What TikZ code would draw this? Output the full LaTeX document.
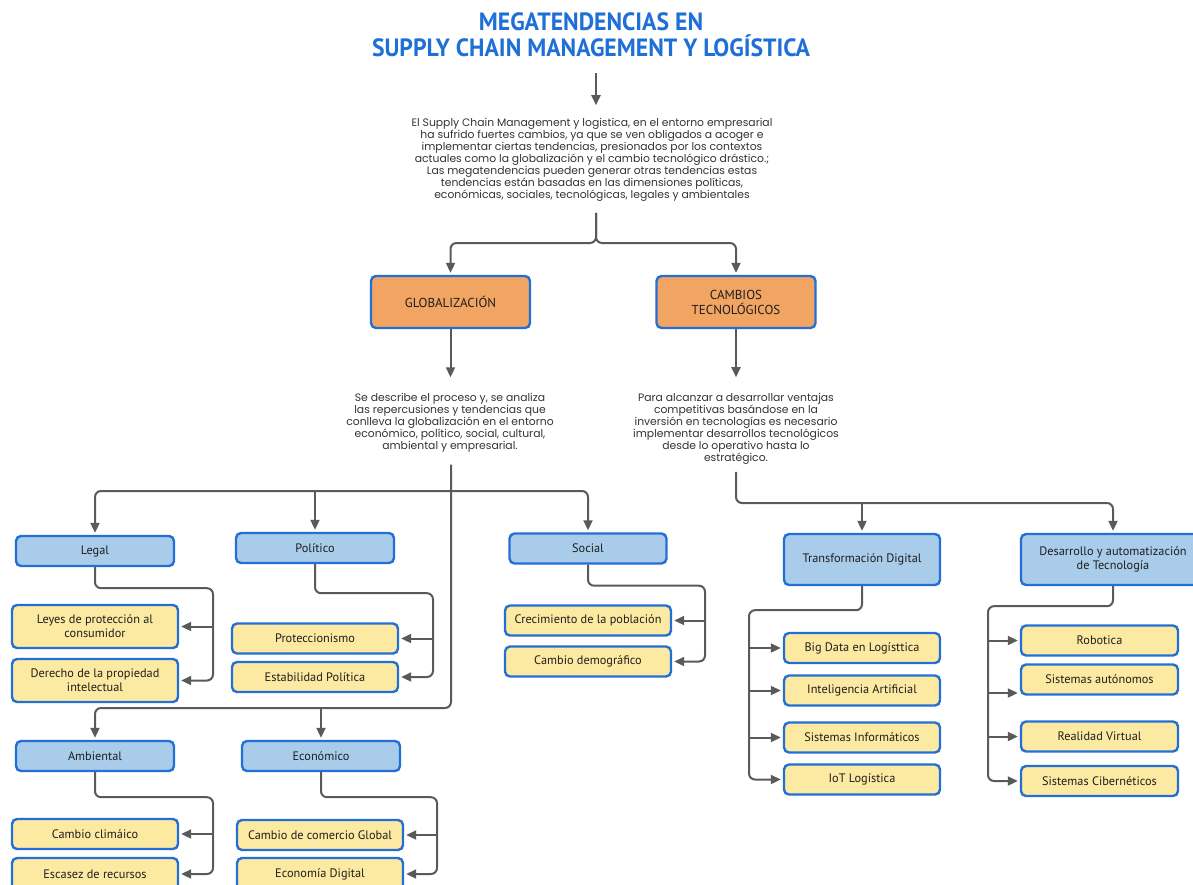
\documentclass[tikz,border=0pt]{standalone}
\usepackage{fontspec}
\usepackage{graphicx}
\setmainfont{PT Sans}
\newfontfamily\parafont{Poppins}
\usetikzlibrary{arrows.meta,calc}

\definecolor{titleblue}{HTML}{1E6FD6}
\definecolor{boxline}{HTML}{2270D6}
\definecolor{bluefill}{HTML}{A9CCEA}
\definecolor{orangefill}{HTML}{F2A462}
\definecolor{yellowfill}{HTML}{FDEAA2}
\definecolor{linegray}{HTML}{5A5A5A}
\definecolor{textdark}{HTML}{1E1E1E}
\definecolor{textgray}{HTML}{333333}

\tikzset{
  box/.style={draw=boxline, line width=2.4pt, rounded corners=5pt,
    font=\fontsize{12.3}{14}\selectfont, text=textdark, align=center, inner sep=2pt},
  topicbox/.style={box, fill=orangefill, minimum width=159pt, minimum height=52pt,
    font=\fontsize{13}{15}\selectfont},
  catbox/.style={box, fill=bluefill, minimum width=158pt, minimum height=30pt},
  itembox/.style={box, fill=yellowfill, minimum width=166pt, minimum height=30pt},
  conn/.style={draw=linegray, line width=2pt, rounded corners=6pt,
    -{Triangle[length=10pt,width=9pt]}, shorten >=2pt},
  para/.style={font=\parafont\fontsize{10.8}{12}\selectfont, text=textgray,
    align=center, inner sep=0pt},
}

\begin{document}
\begin{tikzpicture}[x=1pt,y=-1pt]
\useasboundingbox (0,0) rectangle (1193,884);
\clip (0,0) rectangle (1193,884);

% title and introduction
\node[font=\bfseries\fontsize{25}{26}\selectfont, text=titleblue, align=center, inner sep=0pt]
  (title) at (591,35) {\scalebox{0.95}[1]{MEGATENDENCIAS EN}\\\scalebox{0.95}[1]{SUPPLY CHAIN MANAGEMENT Y LOGÍSTICA}};

\node[para] (intro) at (592,160) {El Supply Chain Management y logistica, en el entorno empresarial\\
ha sufrido fuertes cambios, ya que se ven obligados a acoger e\\
implementar ciertas tendencias, presionados por los contextos\\
actuales como la globalización y el cambio tecnológico drástico.;\\
Las megatendencias pueden generar otras tendencias estas\\
tendencias están basadas en las dimensiones políticas,\\
económicas, sociales, tecnológicas, legales y ambientales};

% the two megatrends
\node[topicbox] (glob) at (450.5,302) {GLOBALIZACIÓN};
\node[topicbox] (camb) at (736,302) {CAMBIOS\\TECNOLÓGICOS};

\node[para] (gtext) at (450,423) {Se describe el proceso y, se analiza\\
las repercusiones y tendencias que\\
conlleva la globalización en el entorno\\
económico, político, social, cultural,\\
ambiental y empresarial.};

\node[para] (ctext) at (736,429) {Para alcanzar a desarrollar ventajas\\
competitivas basándose en la\\
inversión en tecnologías es necesario\\
implementar desarrollos tecnológicos\\
desde lo operativo hasta lo\\
estratégico.};

% dimensions of globalisation
\node[catbox] (legal) at (95,551) {Legal};
\node[catbox] (polit) at (315,548) {Político};
\node[catbox, minimum width=157pt] (social) at (588,548.5) {Social};
\node[catbox] (amb) at (95,756) {Ambiental};
\node[catbox] (econ) at (321,756) {Económico};

\node[itembox, minimum height=43pt] (leyes) at (95,626.5) {Leyes de protección al\\consumidor};
\node[itembox, minimum height=43pt] (derecho) at (95,680.5) {Derecho de la propiedad\\intelectual};
\node[itembox] (protec) at (315,638.5) {Proteccionismo};
\node[itembox] (estab) at (315,677) {Estabilidad Política};
\node[itembox] (crec) at (588,620.5) {Crecimiento de la población};
\node[itembox] (cdemo) at (588,661.5) {Cambio demográfico};
\node[itembox] (cclim) at (95,834) {Cambio climáico};
\node[itembox, minimum height=32pt] (escasez) at (95,874) {Escasez de recursos};
\node[itembox] (comercio) at (320,835) {Cambio de comercio Global};
\node[itembox, minimum height=32pt] (edig) at (320,874) {Economía Digital};

% technological change
\node[catbox, minimum width=156pt, minimum height=51pt] (td) at (862,559.5) {Transformación Digital};
\node[catbox, minimum width=184pt, minimum height=51pt] (desa) at (1113,559.5) {Desarrollo y automatización\\de Tecnología};

\node[itembox, minimum width=156pt] (bigdata) at (862,648) {Big Data en Logísttica};
\node[itembox, minimum width=156pt] (ia) at (862,690.5) {Inteligencia Artificial};
\node[itembox, minimum width=156pt] (sinf) at (862,737.5) {Sistemas Informáticos};
\node[itembox, minimum width=156pt] (iot) at (862,779.5) {IoT Logística};

\node[itembox, minimum width=157pt] (robot) at (1099.5,640.5) {Robotica};
\node[itembox, minimum width=157pt] (auton) at (1099.5,679.5) {Sistemas autónomos};
\node[itembox, minimum width=157pt] (rv) at (1099.5,736.5) {Realidad Virtual};
\node[itembox, minimum width=157pt] (ciber) at (1099.5,781) {Sistemas Cibernéticos};

% junctions
\coordinate (j1) at (596,243);
\coordinate (j2) at (451,491);
\coordinate (j3) at (451,708);
\coordinate (j4) at (736,503);

% main flow
\draw[conn, shorten <=16pt, shorten >=13pt] (title.south -| j1) -- (intro.north -| j1);
\draw[conn, shorten <=11pt] (intro.south -| j1) -- (j1) -| (glob.north);
\draw[conn, shorten <=11pt] (intro.south -| j1) -- (j1) -| (camb.north);
\draw[conn, shorten >=16pt] (glob.south) -- (glob.south |- gtext.north);
\draw[conn, shorten >=16pt] (camb.south) -- (camb.south |- ctext.north);

% globalisation branches
\draw[conn, shorten <=12pt] (gtext.south -| j3) -- (j3) -| (amb.north);
\draw[conn] (econ.north |- j3) -- (econ.north);
\draw[conn] (j2) -| (legal.north);
\draw[conn] (j2) -| (social.north);
\draw[conn] (polit.north |- j2) -- (polit.north);

% technology branches
\draw[conn, shorten <=7pt] (ctext.south -| j4) -- (j4) -| (desa.north);
\draw[conn] (td.north |- j4) -- (td.north);

% leaf connectors
\draw[conn] (legal.south) -- ++(0,21) -| (213,0 |- derecho.east) -- (derecho.east);
\draw[conn] (213,0 |- leyes.east) -- (leyes.east);

\draw[conn] (polit.south) -- ++(0,29) -| (433,0 |- estab.east) -- (estab.east);
\draw[conn] (433,0 |- protec.east) -- (protec.east);

\draw[conn] (social.south) -- ++(0,21) -| (705,0 |- cdemo.east) -- (cdemo.east);
\draw[conn] (705,0 |- crec.east) -- (crec.east);

\draw[conn] (amb.south) -- ++(0,25) -| (213,0 |- escasez.east) -- (escasez.east);
\draw[conn] (213,0 |- cclim.east) -- (cclim.east);

\draw[conn] (econ.south) -- ++(0,25) -| (437,0 |- edig.east) -- (edig.east);
\draw[conn] (437,0 |- comercio.east) -- (comercio.east);

\draw[conn] (td.south) -- ++(0,24) -| (749,0 |- iot.west) -- (iot.west);
\draw[conn] (749,0 |- bigdata.west) -- (bigdata.west);
\draw[conn] (749,0 |- ia.west) -- (ia.west);
\draw[conn] (749,0 |- sinf.west) -- (sinf.west);

\draw[conn] (desa.south) -- ++(0,20) -| (988,0 |- ciber.west) -- (ciber.west);
\draw[conn] (988,0 |- robot.west) -- (robot.west);
\draw[conn] ([yshift=-13.5pt]auton.west -| 988,0) -- ([yshift=-13.5pt]auton.west);
\draw[conn] (988,0 |- rv.west) -- (rv.west);
\end{tikzpicture}
\end{document}
